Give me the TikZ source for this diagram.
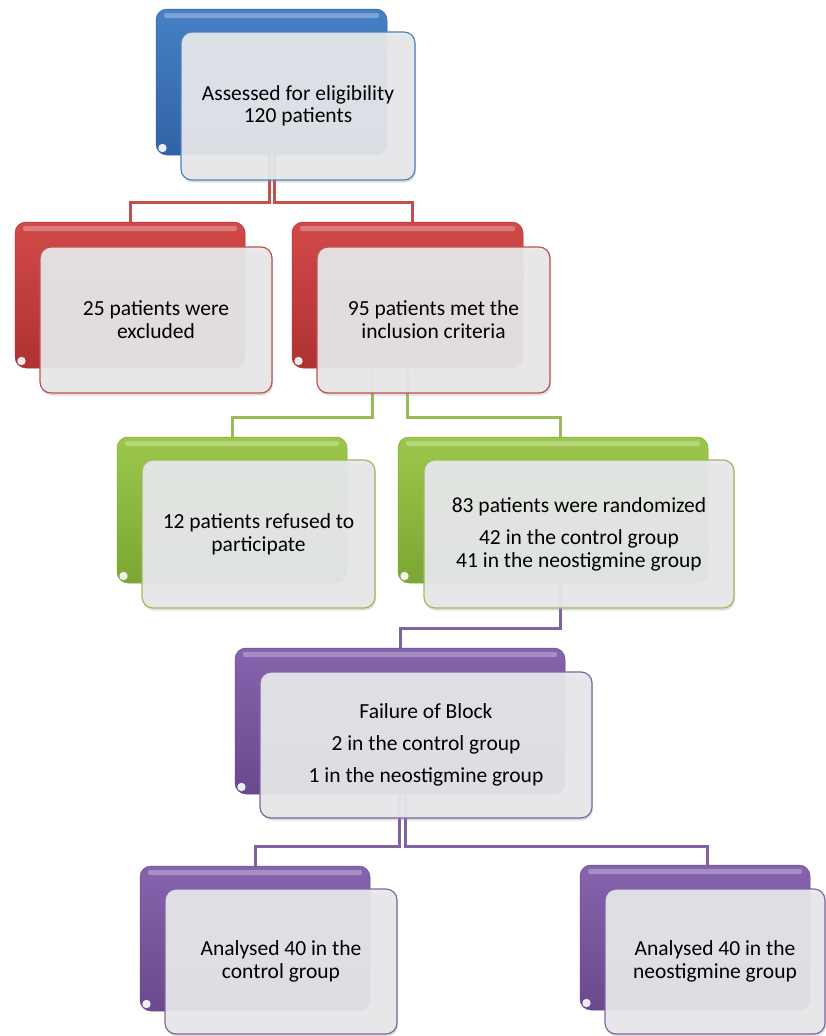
\documentclass[tikz,border=0pt]{standalone}
\usepackage{fontspec}
\setmainfont{Carlito}
\usetikzlibrary{shadows,backgrounds}
\definecolor{blueback}{RGB}{56,117,193}
\definecolor{redback}{RGB}{206,58,58}
\definecolor{greenback}{RGB}{146,195,60}
\definecolor{purpleback}{RGB}{124,86,166}
\definecolor{blueline}{RGB}{79,129,189}
\definecolor{redline}{RGB}{192,80,77}
\definecolor{greenline}{RGB}{155,187,89}
\definecolor{purpleline}{RGB}{128,100,162}
\definecolor{glass}{RGB}{232,233,236}

\begin{document}
\begin{tikzpicture}[x=1pt, y=-1pt,
  back/.style={rounded corners=11pt, draw=#1!85!black, line width=0.5pt,
    top color=#1!92!white, middle color=#1, bottom color=#1!85!black,
    minimum height=146pt, inner sep=0pt,
    path picture={
      \fill[white, opacity=0.28, rounded corners=2pt]
        ([shift={(8pt,-4pt)}]path picture bounding box.north west) rectangle
        ([shift={(-8pt,-9pt)}]path picture bounding box.north east);
      \fill[white, opacity=0.9]
        ([shift={(6.5pt,7pt)}]path picture bounding box.south west) circle (4.2pt);
    }},
  front/.style={rounded corners=11pt, draw=#1, line width=1.2pt,
    fill=glass, fill opacity=0.92, text opacity=1,
    minimum height=146pt, inner sep=0pt, align=center,
    font=\fontsize{21.5}{23}\selectfont,
    drop shadow={opacity=0.25, shadow xshift=1pt, shadow yshift=-2.5pt}},
  link/.style={line width=3pt, draw=#1}
]
\useasboundingbox (0,0) rectangle (826,1036);

% level 0
\node[back=blueback, minimum width=231pt] (n0) at (271.5,82) {};
\node[front=blueline, minimum width=234pt, minimum height=148pt] (n0f) at (298,106)
  {Assessed for eligibility\\[-1pt]120 patients};

% level 1
\node[back=redback, minimum width=230pt] (n1) at (130,295) {};
\node[front=redline, minimum width=232pt] (n1f) at (156,320) {25 patients were\\excluded};
\node[back=redback, minimum width=231pt] (n2) at (407.5,295) {};
\node[front=redline, minimum width=233pt] (n2f) at (433.5,320) {95 patients met the\\inclusion criteria};

% level 2
\node[back=greenback, minimum width=230pt] (n3) at (232,510) {};
\node[front=greenline, minimum width=233pt, minimum height=148pt] (n3f) at (258.5,534)
  {12 patients refused to\\participate};
\node[back=greenback, minimum width=310pt] (n4) at (553,510) {};
\node[front=greenline, minimum width=310pt, minimum height=148pt] (n4f) at (579,534)
  {83 patients were randomized\\[9pt]42 in the control group\\41 in the neostigmine group};

% level 3
\node[back=purpleback, minimum width=330pt] (n5) at (400,721) {};
\node[front=purpleline, minimum width=332pt] (n5f) at (426,745)
  {Failure of Block\\[9pt]2 in the control group\\[9pt]1 in the neostigmine group};

% level 4
\node[back=purpleback, minimum width=230pt, minimum height=145pt] (n6) at (255,938.5) {};
\node[front=purpleline, minimum width=232pt, minimum height=145pt] (n6f) at (281,961.5)
  {Analysed 40 in the\\control group};
\node[back=purpleback, minimum width=230pt, minimum height=145pt] (n7) at (695,937.5) {};
\node[front=purpleline, minimum width=220pt, minimum height=145pt] (n7f) at (715,961.5)
  {Analysed 40 in the\\neostigmine group};

\begin{pgfonlayer}{background}
\draw[link=redline] ([xshift=-2.5pt]n0.south) -- ++(0,47) -| (n1.north);
\draw[link=redline] ([xshift=2.5pt]n0.south) -- ++(0,47) -| ([xshift=5pt]n2.north);
\draw[link=greenline] ([xshift=-35pt]n2.south) -- ++(0,49) -| (n3.north);
\draw[link=greenline] (n2.south) -- ++(0,49) -| ([xshift=7pt]n4.north);
\draw[link=purpleline] ([xshift=7pt]n4.south) -- ++(0,45) -| (n5.north);
\draw[link=purpleline] ([xshift=-0.5pt]n5.south) -- ++(0,52) -| (n6.north);
\draw[link=purpleline] ([xshift=5.5pt]n5.south) -- ++(0,52) -| ([xshift=12pt]n7.north);
\end{pgfonlayer}
\end{tikzpicture}
\end{document}
